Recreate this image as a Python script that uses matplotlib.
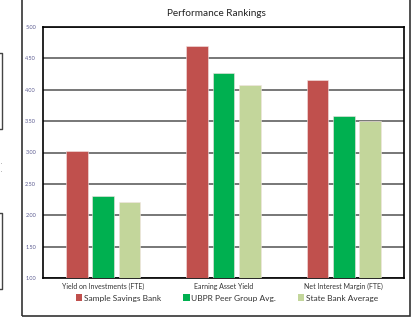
import numpy as np
import matplotlib
matplotlib.use('Agg')
import matplotlib.pyplot as plt
from matplotlib.lines import Line2D
from matplotlib.patches import Rectangle, Patch

# Data
categories = ['Yield on Investments (FTE)', 'Earning Asset Yield', 'Net Interest Margin (FTE)']
series_names = ['Sample Savings Bank', 'UBPR Peer Group Avg.', 'State Bank Average']
sample_bank = [3.02, 4.70, 4.16]
peer_group = [2.31, 4.26, 3.58]
state_avg = [2.21, 4.07, 3.50]
yticks = [1.00, 1.50, 2.00, 2.50, 3.00, 3.50, 4.00, 4.50, 5.00]

colors = ['#C0504D', '#00B050', '#C3D69B']
plt.rcParams['font.family'] = ['Lato', 'DejaVu Sans']

W, H = 411, 318
fig = plt.figure(figsize=(W / 100, H / 100), dpi=100)

def fx(px):
    return px / W

def fy(py):
    return 1 - py / H

ax = fig.add_axes([fx(43), fy(278), fx(404) - fx(43), fy(27) - fy(278)])

x = np.arange(len(categories))
offsets = [-0.22, 0.0, 0.22]
for vals, off, c, name in zip([sample_bank, peer_group, state_avg], offsets, colors, series_names):
    ax.bar(x + off, np.array(vals) - 1.0, bottom=1.0, width=0.18, color=c,
           edgecolor='#f3e3e3', linewidth=0.4, label=name, zorder=3)

ax.set_xlim(-0.5, 2.5)
ax.set_ylim(1.0, 5.0)
ax.set_yticks(yticks)
ax.set_yticklabels([f'{v:.2f}' for v in yticks], fontsize=4.0, color='#5a5a90')
ax.tick_params(axis='y', length=0, pad=5)
ax.set_xticks(x)
ax.set_xticklabels(categories, fontsize=5.0, color='#333333')
ax.tick_params(axis='x', length=0, pad=3.5)
ax.grid(axis='y', color='#606060', linewidth=1.2, zorder=0)
for s in ax.spines.values():
    s.set_color('#000000')
    s.set_linewidth(1.2)

fig.text(fx(216), fy(13), 'Performance Rankings', fontsize=7.2, ha='center', va='center', color='#222222')

handles = [Patch(facecolor=c, edgecolor='none') for c in colors]
fig.legend(handles, series_names, loc='center', bbox_to_anchor=(fx(227), fy(298)), ncol=3,
           frameon=False, fontsize=6.0, handlelength=0.8, handleheight=0.8, handletextpad=0.2,
           columnspacing=2.6, labelcolor='#333333')

# outer chart frame
fig.add_artist(Rectangle((fx(21.5), fy(316)), fx(410) - fx(21.5), fy(-5) - fy(316),
                         transform=fig.transFigure, fill=False, edgecolor='#333333', linewidth=1.2))

# partial boxes cut off at the left edge
for top, bot in [(53, 129), (213, 289)]:
    fig.add_artist(Line2D([fx(0), fx(2), fx(2), fx(0)], [fy(top), fy(top), fy(bot), fy(bot)],
                          transform=fig.transFigure, color='#444444', linewidth=1.0))
fig.text(fx(0.5), fy(163), '.', fontsize=4, color='#555555', va='center')
fig.text(fx(0.5), fy(171), '.', fontsize=4, color='#555555', va='center')

fig.savefig('out.png', dpi=100)
